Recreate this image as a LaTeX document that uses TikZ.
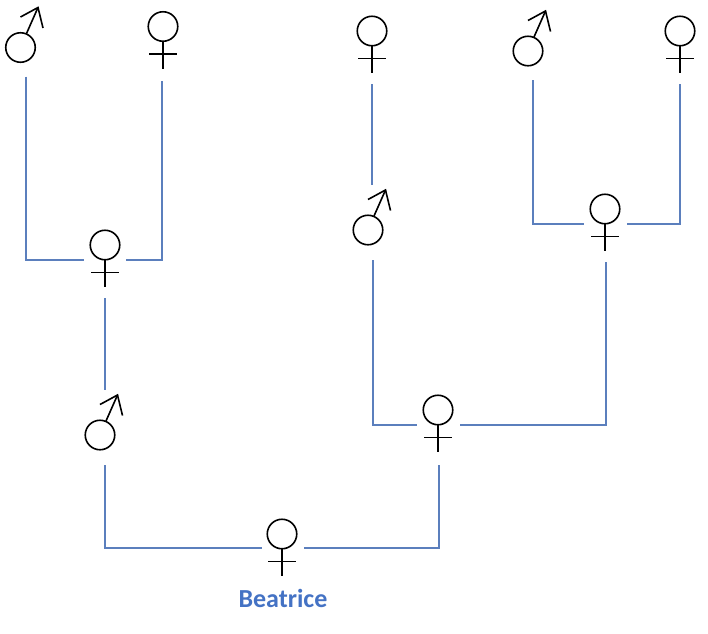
\documentclass[tikz,border=0pt]{standalone}
\usepackage{fontspec}
\setmainfont{Carlito}
\usetikzlibrary{calc}
\definecolor{linkblue}{HTML}{5B7FBD}
\definecolor{nameblue}{HTML}{4472C4}
\tikzset{
  sym/.style={circle,draw=black,line width=1.6pt,minimum size=29.5pt,inner sep=0pt,outer sep=0pt},
  symline/.style={black,line width=1.6pt},
  link/.style={linkblue,line width=1.2pt}
}

\begin{document}
\begin{tikzpicture}[x=1pt,y=-1pt]

  \useasboundingbox (0,0) rectangle (708,633);

  % Females
  \foreach \name/\pos in {f1/{163,26.5},f2/{372,31},f3/{105,245},f4/{680,31},f5/{605,209},f6/{438,410},bea/{282,534}}{
    \node[sym] (\name) at (\pos) {};
    \draw[symline] (\name.south) -- ($(\name)+(0,42)$);
    \draw[symline] ($(\name)+(-14,27.5)$) -- ($(\name)+(14,27.5)$);
  }

  % Males
  \foreach \name/\pos in {m1/{20.5,47.5},m2/{528,51},m3/{368,230},m4/{100,435}}{
    \node[sym] (\name) at (\pos) {};
    \draw[symline] ($(\name)+(6,-14)$) -- ($(\name)+(17.5,-40)$);
    \draw[symline] ($(\name)+(0,-30.5)$) -- ($(\name)+(17.5,-40)$) -- ($(\name)+(22.5,-19.5)$);
  }

  % Left branch
  \draw[link] ($(m1)+(5.5,29)$) |- ($(f3)+(-21,15)$);
  \draw[link] ($(f1)+(-1,54.5)$) |- ($(f3)+(21,15)$);
  \draw[link] ($(f3)+(0,53)$) -- ($(m4)+(5,-45)$);
  \draw[link] ($(m4)+(5,30)$) |- ($(bea)+(-20,14)$);

  % Right branch
  \draw[link] ($(f2)+(0,53)$) -- ($(m3)+(4,-45)$);
  \draw[link] ($(m3)+(5,30)$) |- ($(f6)+(-21,15)$);
  \draw[link] ($(m2)+(5,29)$) |- ($(f5)+(-21,15)$);
  \draw[link] ($(f4)+(0,53)$) |- ($(f5)+(22,15)$);
  \draw[link] ($(f5)+(1,53)$) |- ($(f6)+(22,15)$);
  \draw[link] ($(f6)+(1,55)$) |- ($(bea)+(22,14)$);

  % Name
  \node[text=nameblue,font=\fontsize{26}{30}\selectfont\bfseries,anchor=base] (name) at (283,607) {Beatrice};

\end{tikzpicture}
\end{document}
